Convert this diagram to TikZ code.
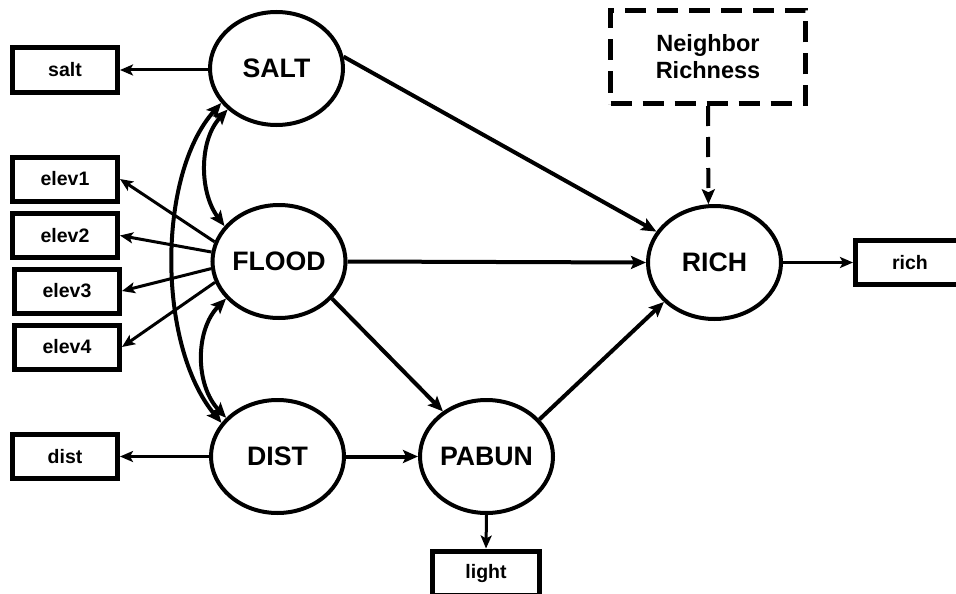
\documentclass[tikz,border=0pt]{standalone}
\usepackage{fontspec}
\setmainfont{Liberation Sans}
\usetikzlibrary{arrows.meta,shapes.geometric}
\begin{document}
\begin{tikzpicture}[x=1pt,y=-1pt,
  latent/.style={ellipse,draw,line width=4pt,minimum width=133pt,minimum height=113pt,
    inner sep=0pt,font=\fontsize{26.7}{30}\selectfont\bfseries},
  indicator/.style={rectangle,draw,line width=5pt,minimum width=105pt,minimum height=44pt,
    inner sep=0pt,font=\fontsize{19.5}{22}\selectfont\bfseries},
  bigtip/.tip={Stealth[length=15pt,width=13pt,inset=3pt]},
  smalltip/.tip={Stealth[length=13pt,width=11pt,inset=3pt]},
  effect/.style={line width=4pt,-bigtip},
  loading/.style={line width=3pt,-smalltip},
  covar/.style={line width=4pt,bigtip-bigtip}
]
% canvas
\clip (0,0) rectangle (956,594);
\fill[white] (0,0) rectangle (956,594);

% latent variables
\node[latent] (SALT)  at (276.5,68.5)  {SALT};
\node[latent] (FLOOD) at (279,261.5)   {FLOOD};
\node[latent] (DIST)  at (277.5,456.5) {DIST};
\node[latent] (PABUN) at (486.5,456.5) {PABUN};
\node[latent] (RICH)  at (714.5,262.5) {RICH};

% observed indicators
\node[indicator] (salt)  at (65,70)    {salt};
\node[indicator] (elev1) at (65,179)   {elev1};
\node[indicator] (elev2) at (65,235.5) {elev2};
\node[indicator] (elev3) at (67,291)   {elev3};
\node[indicator] (elev4) at (67,347)   {elev4};
\node[indicator] (dist)  at (65,456.5) {dist};
\node[indicator,minimum width=107pt] (light) at (486,573) {light};
\node[indicator,minimum width=109pt] (rich)  at (910,262.5) {rich};

% external influence
\node[rectangle,draw,dashed,dash pattern=on 21pt off 11pt,line width=5pt,
  minimum width=195pt,minimum height=93pt,inner sep=0pt,align=center,
  font=\fontsize{23.5}{27}\selectfont\bfseries] (NEIGH) at (708,57)
  {Neighbor\\Richness};

% measurement paths
\draw[loading] (SALT.west |- salt.east) -- (salt.east);
\draw[loading] (FLOOD.163) -- (elev1.east);
\draw[loading] (FLOOD.172) -- (elev2.east);
\draw[loading] (FLOOD.186) -- (elev3.east);
\draw[loading] (FLOOD.198) -- (elev4.east);
\draw[loading] (DIST.west) -- (dist.east);
\draw[loading] (PABUN.south) -- (light.north);
\draw[loading] (RICH.east) -- (rich.west);

% correlations among exogenous variables
\draw[covar] (SALT.212) .. controls (157,175) and (157,345) .. (DIST.149);
\draw[covar] (SALT.220) .. controls (199,140) and (199,192) .. (FLOOD.147);
\draw[covar] (FLOOD.215) .. controls (195,330) and (195,385) .. (DIST.143);

% structural paths
\draw[effect] (SALT.10) -- (RICH.152);
\draw[effect] (FLOOD.east) -- (RICH.west);
\draw[effect] (FLOOD.-35) -- (PABUN.134);
\draw[effect] (DIST.east) -- (PABUN.west);
\draw[effect] (PABUN.35) -- (RICH.218);
\draw[effect,dashed,dash pattern=on 20pt off 11pt] (NEIGH.south) -- (RICH.96);
\end{tikzpicture}
\end{document}
